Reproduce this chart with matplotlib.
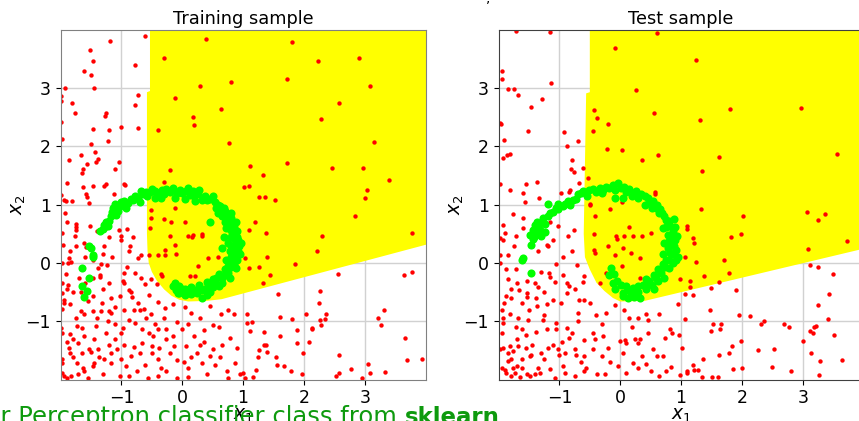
import numpy as np
import matplotlib.pyplot as plt

# ---- data ----
ticks = [-1, 0, 1, 2, 3]
titles = ["Training sample", "Test sample"]

# predicted "positive" region (yellow), polygon outline
train_region_x = [-0.53, -0.53, -0.58, -0.58, -0.57, -0.55, -0.50, -0.42, -0.30, -0.18, -0.05, 0.10, 0.40, 0.65, 4.1, 4.1]
train_region_y = [4.1, 2.95, 2.93, 0.50, 0.20, 0.00, -0.15, -0.30, -0.45, -0.56, -0.63, -0.66, -0.65, -0.62, 0.34, 4.1]
test_region_x = [-0.50, -0.50, -0.56, -0.60, -0.58, -0.50, -0.39, -0.26, -0.12, 0.00, 0.40, 4.1, 4.1]
test_region_y = [4.1, 2.93, 2.91, 0.50, 0.10, -0.11, -0.34, -0.48, -0.60, -0.66, -0.65, 0.27, 4.1]

train_red = [
    (-0.61, 3.89), (-1.19, 3.80), (-1.52, 3.65), (-1.47, 3.46), (-0.78, 3.39), (-1.62, 3.30), (-1.50, 3.22),
    (-1.45, 3.00), (-1.93, 3.00), (-1.99, 2.87), (-1.99, 2.78), (-0.72, 2.89), (-1.81, 2.75), (-0.78, 2.71),
    (-1.77, 2.57), (-1.25, 2.57), (-1.27, 2.53), (-1.99, 2.42), (-1.00, 2.34), (-1.46, 2.30), (-1.20, 2.29),
    (-0.72, 2.31), (-1.98, 2.13), (-1.22, 2.10), (-1.50, 2.04), (-1.43, 1.91), (-1.67, 1.85), (-1.86, 1.77),
    (-1.39, 1.79), (-1.41, 1.73), (-1.04, 1.73), (-1.57, 1.69), (-1.63, 1.61), (-1.65, 1.55), (-1.11, 1.61),
    (-1.89, 1.38), (-1.46, 1.32), (-1.26, 1.35), (-1.28, 1.32), (-0.96, 1.35), (-0.94, 1.33), (-1.63, 1.30),
    (-1.58, 1.18), (-1.57, 1.14), (-1.12, 1.18), (-1.99, 1.16), (-1.95, 1.08), (-1.91, 1.06), (-1.81, 1.06),
    (-1.54, 1.03),
    (0.39, 3.85), (-0.30, 3.52), (0.81, 3.11), (0.30, 3.03), (-0.12, 2.83), (0.63, 2.64), (0.18, 2.51),
    (0.19, 2.37), (-0.39, 2.28), (0.77, 2.05), (-0.20, 1.60), (-0.30, 1.39), (1.02, 1.30),
    (1.81, 3.79), (2.24, 3.47), (2.90, 3.51), (1.73, 3.15), (3.08, 3.04), (2.57, 2.74), (2.28, 2.47),
    (3.15, 2.08), (1.11, 1.66), (1.73, 1.72), (2.47, 1.63), (2.97, 1.63), (1.32, 1.51), (3.40, 1.42),
    (1.09, 1.32), (3.03, 1.26), (1.26, 1.14), (1.36, 1.14), (3.00, 1.12), (1.53, 1.08),
    (1.20, 0.70), (1.09, 0.56), (1.38, 0.52), (2.84, 0.80), (2.30, 0.47), (3.78, 0.52), (2.21, 0.21),
    (1.03, 0.09), (1.40, 0.11), (1.86, -0.01), (1.09, -0.09), (1.27, -0.06), (1.45, -0.20), (1.33, -0.34),
    (2.56, -0.18), (3.65, -0.20), (3.77, -0.16), (1.57, -0.53), (2.26, -0.48), (2.25, -0.68), (1.07, -0.88),
    (1.06, -1.03), (1.14, -1.01), (1.11, -1.16), (1.60, -0.92), (1.80, -0.96), (2.03, -0.87), (2.37, -0.87),
    (2.26, -0.97), (2.35, -0.96), (2.28, -1.07), (3.31, -0.81), (3.22, -0.95), (3.27, -1.07), (1.35, -1.18),
    (1.89, -1.15), (2.14, -1.12), (2.14, -1.14), (1.60, -1.26), (1.89, -1.37), (2.08, -1.36), (1.34, -1.40),
    (1.38, -1.41), (1.27, -1.49), (1.39, -1.52), (1.98, -1.54), (1.25, -1.62), (1.54, -1.61), (2.57, -1.57),
    (3.66, -1.28), (3.70, -1.66), (3.94, -1.65), (1.56, -1.75), (1.68, -1.77), (1.22, -1.84), (1.78, -1.85),
    (1.97, -1.90), (2.77, -1.81), (3.05, -1.73), (3.08, -1.89), (3.34, -1.87), (2.57, -1.89), (2.52, -1.93),
    (2.95, -1.98), (1.00, -1.89), (1.04, -1.97), (1.16, -1.96),
    (-1.92, 0.86), (-1.74, 0.67), (-1.74, 0.61), (-1.74, 0.57), (-1.52, 0.64), (-0.91, 0.59), (-1.04, 0.57),
    (-1.98, 0.52), (-1.77, 0.46), (-1.96, 0.31), (-1.75, 0.30), (-1.61, 0.34), (-1.59, 0.27), (-1.29, 0.30),
    (-1.31, 0.16), (-1.00, 0.46), (-1.00, 0.39), (-0.81, 0.44), (-0.86, 0.29), (-0.88, 0.21), (-0.68, 0.13),
    (-0.73, 0.09), (-1.97, 0.00), (-1.88, 0.00), (-1.83, 0.01), (-1.86, 0.09), (-1.46, 0.05), (-1.34, -0.01),
    (-1.39, -0.09), (-1.23, -0.03), (-0.90, -0.07), (-0.95, -0.17), (-0.78, -0.17), (-0.68, -0.26),
    (-1.91, -0.19), (-1.97, -0.35), (-1.87, -0.37), (-1.35, -0.20), (-1.35, -0.24), (-1.46, -0.26),
    (-0.97, -0.31), (-0.95, -0.34), (-0.62, -0.36), (-0.52, -0.27), (-0.42, -0.36), (-1.98, -0.51),
    (-1.94, -0.63), (-1.80, -0.50), (-1.66, -0.50), (-1.31, -0.44), (-1.47, -0.57), (-1.32, -0.68),
    (-1.17, -0.60), (-1.03, -0.57), (-0.88, -0.46), (-0.85, -0.50), (-0.83, -0.58), (-0.72, -0.68),
    (-0.63, -0.79), (-0.69, -0.81), (-0.51, -0.87), (-0.40, -0.67), (-0.28, -0.77), (-0.15, -0.71),
    (0.04, -0.75), (0.15, -0.85), (0.46, -0.73), (0.63, -0.87), (0.75, -0.81), (0.85, -0.88), (-1.84, -0.71),
    (-1.94, -0.68), (-1.97, -0.79), (-1.66, -0.83), (-1.61, -0.87), (-1.47, -0.83), (-1.33, -0.83),
    (-1.21, -0.83), (-1.17, -0.85), (-0.96, -0.81),
    (-1.99, -1.11), (-1.97, -1.20), (-1.84, -1.21), (-1.73, -1.08), (-1.65, -1.11), (-1.42, -1.08),
    (-1.22, -1.00), (-1.11, -1.05), (-0.98, -1.11), (-0.88, -0.98), (-0.78, -1.03), (-0.66, -1.13),
    (-0.48, -1.25), (-0.40, -1.14), (-0.26, -1.13), (-0.08, -1.01), (-0.01, -1.14), (0.10, -1.05),
    (0.35, -1.15), (0.50, -1.07), (0.79, -1.28),
    (-1.86, -1.45), (-1.72, -1.37), (-1.53, -1.48), (-1.50, -1.53), (-1.39, -1.48), (-1.17, -1.54),
    (-1.07, -1.48), (-0.79, -1.44), (-0.66, -1.37), (-0.49, -1.42), (-0.38, -1.45), (-0.26, -1.31),
    (-0.13, -1.42), (0.07, -1.42), (0.36, -1.36), (0.51, -1.48), (0.62, -1.62),
    (-1.98, -1.65), (-1.97, -1.71), (-1.80, -1.61), (-1.73, -1.71), (-1.63, -1.80), (-1.61, -1.85),
    (-1.47, -1.77), (-1.36, -1.62), (-1.28, -1.65), (-1.17, -1.71), (-1.01, -1.65), (-0.92, -1.77),
    (-0.62, -1.75), (-0.40, -1.65), (-0.26, -1.85), (-0.09, -1.66), (0.03, -1.70), (0.15, -1.61),
    (0.33, -1.71), (0.54, -1.75), (0.73, -1.85), (0.87, -1.71),
    (-1.97, -1.88), (-1.94, -1.94), (-1.90, -1.97), (-1.83, -1.93), (-1.72, -1.91), (-1.55, -1.98),
    (-1.03, -1.94), (-0.87, -1.94), (-0.56, -1.97), (-0.40, -1.94), (-0.09, -1.98), (0.76, -1.97), (0.95, -1.91),
    (-1.62, -1.25), (-1.45, -1.30), (-1.25, -1.20), (-1.10, -1.30), (-0.95, -1.40), (-0.70, -1.55),
    (-0.55, -1.20), (-0.20, -1.55), (0.20, -1.25), (0.40, -1.90), (-1.80, -1.30), (-1.30, -1.90),
    (-0.75, -1.85), (-1.55, -0.65), (-1.10, -0.75), (-0.60, -0.95), (-0.30, -0.95), (0.25, -1.55),
    (-1.70, -0.25), (-1.20, 0.45), (-1.40, 0.55), (-1.90, 0.70),
    (-1.85, -1.55), (-1.65, -1.55), (-1.45, -1.72), (-1.20, -1.40), (-1.00, -1.20), (-0.85, -1.60),
    (-0.50, -1.55), (-0.35, -1.80), (0.10, -1.80), (0.30, -1.40), (0.45, -1.60), (0.65, -1.40),
    (-1.75, -0.95), (-1.40, -0.95), (-0.80, -0.80), (-0.45, -1.05), (0.30, -0.95), (-1.90, -0.45),
    (-1.60, -0.35), (-1.20, -0.35), (-1.60, 0.10), (-1.15, 0.10), (-0.55, -0.55), (-1.85, 0.20),
    (-1.25, 0.60), (-1.90, -1.35), (-0.15, -1.25), (0.60, -1.10), (0.90, -1.45), (0.10, -1.95),
    (-0.52, 0.91), (-0.51, 0.77), (-0.30, 0.75), (-0.18, 0.71), (-0.12, 0.95), (0.04, 0.70), (-0.53, 0.60),
    (-0.20, 0.46), (0.09, 0.46), (0.18, 0.48), (0.16, 0.44), (0.32, 0.50), (0.33, 0.46), (-0.12, 0.31),
    (-0.55, 0.14), (-0.40, 0.13), (-0.29, 0.23), (-0.28, 0.14), (-0.11, 0.16), (0.43, 0.09), (0.26, -0.05),
    (0.12, -0.23), (0.21, -0.23), (-0.35, -0.19), (-0.34, -0.23), (0.59, 0.11),
]

train_green = [
    (-1.31, 0.58), (-1.22, 0.63), (-1.25, 0.71), (-1.17, 0.80), (-1.09, 0.83), (-1.14, 0.94), (-1.03, 0.97),
    (-0.98, 1.00), (-0.89, 1.03), (-1.11, 1.02), (-0.95, 1.07), (-0.81, 1.08), (-0.72, 1.12),
    (-1.53, 0.30), (-1.50, 0.26), (-1.46, 0.11), (-1.47, 0.14), (-1.64, -0.09), (-1.54, -0.25),
    (-1.65, -0.39), (-1.57, -0.48), (-1.61, -0.58),
    (-0.67, 1.24), (-0.65, 1.18), (-0.53, 1.21), (-0.45, 1.23), (-0.34, 1.25), (-0.26, 1.27), (-0.15, 1.28),
    (-0.04, 1.26), (0.07, 1.24), (0.18, 1.23), (0.26, 1.18), (0.37, 1.15), (0.46, 1.10), (0.54, 1.04),
    (-0.45, 1.12), (-0.12, 1.12), (0.04, 1.10), (0.21, 1.07), (-0.58, 1.15), (-0.30, 1.18), (0.12, 1.17),
    (0.32, 1.08),
    (0.46, 0.70), (0.59, 0.86), (0.65, 0.80), (0.79, 0.68), (0.82, 0.51), (0.87, 0.40), (0.93, 0.29),
    (0.87, 0.11), (0.81, -0.06), (0.76, -0.17), (0.65, -0.26), (0.54, -0.34), (0.43, -0.40), (0.32, -0.46),
    (0.21, -0.47), (0.10, -0.47), (-0.01, -0.44), (-0.11, -0.47), (-0.12, -0.34), (-0.07, -0.51),
    (0.32, -0.60), (0.15, -0.54), (0.70, 0.90), (0.75, 0.75), (0.72, 0.60), (0.90, 0.55), (0.95, 0.15),
    (0.92, 0.40), (0.75, 0.35), (0.78, 0.20), (0.72, 0.05), (0.85, -0.02), (0.70, -0.10), (0.60, -0.18),
    (0.50, -0.28), (0.40, -0.32), (0.28, -0.38), (0.60, -0.40), (0.45, -0.50), (0.05, -0.55), (-0.05, -0.40),
    (0.62, 0.98), (0.55, 0.95), (0.80, 0.85), (0.68, 0.45), (0.88, 0.70), (0.84, 0.25), (0.66, 0.25),
    (-0.60, 1.22), (-0.50, 1.27), (-0.40, 1.20), (-0.20, 1.22), (-0.08, 1.20), (0.10, 1.28), (0.28, 1.25),
    (0.40, 1.08), (0.50, 1.15), (0.58, 1.00), (0.62, 0.90), (0.68, 0.95), (0.74, 0.82), (0.80, 0.78),
    (0.70, 0.70), (0.78, 0.58), (0.85, 0.62), (0.86, 0.50), (0.80, 0.45), (0.90, 0.45), (0.96, 0.35),
    (0.88, 0.30), (0.80, 0.30), (0.92, 0.20), (0.86, 0.18), (0.80, 0.10), (0.90, 0.05), (0.78, 0.00),
    (0.88, -0.08), (0.75, -0.05), (0.78, -0.25), (0.70, -0.20), (0.65, -0.35), (0.55, -0.25), (0.48, -0.38),
    (0.38, -0.45), (0.25, -0.52), (0.15, -0.42), (0.05, -0.45), (-0.05, -0.52), (-0.15, -0.40), (0.40, -0.55),
    (0.50, -0.42), (-1.20, 0.72), (-1.28, 0.65), (-1.15, 0.88), (-1.05, 0.90), (-0.92, 0.95), (-0.85, 1.10),
    (-0.78, 1.15), (-0.70, 1.05), (-1.35, 0.55), (-1.00, 1.05), (0.00, 1.20), (0.20, 1.15), (-0.35, 1.12),
]

test_red = [
    (-1.71, 3.98), (-1.16, 3.97), (0.61, 3.95), (-0.08, 3.69), (-1.95, 3.30), (-1.94, 3.15), (-1.14, 3.09),
    (-1.84, 2.99), (-1.75, 2.99), (-1.68, 2.88), (-1.29, 2.82), (-1.46, 2.68), (0.26, 2.97), (-0.43, 2.63),
    (-0.38, 2.49), (-0.20, 2.39), (0.55, 2.57), (-1.97, 2.41), (-1.96, 2.38), (-1.52, 2.26), (-1.91, 2.11),
    (-0.93, 2.24), (-0.69, 2.10), (-0.44, 2.27), (-0.87, 2.00), (-1.93, 1.80), (-1.86, 1.86), (-1.81, 1.87),
    (-0.21, 1.95), (0.03, 1.94), (0.62, 1.86), (0.35, 1.77), (-0.80, 1.77), (-0.81, 1.61), (-0.76, 1.56),
    (-0.61, 1.63), (-1.97, 1.35), (-1.55, 1.35), (-1.36, 1.39), (-0.67, 1.38), (-0.53, 1.45), (-1.82, 1.25),
    (-1.60, 1.20), (-0.98, 1.20), (-0.84, 1.22), (-0.82, 1.26), (-1.33, 1.11), (-1.56, 1.05), (-0.50, 1.01),
    (0.57, 1.22), (0.57, 1.18), (0.03, 1.04),
    (1.24, 3.48), (1.81, 2.65), (2.97, 2.66), (1.31, 2.46), (1.63, 1.82), (3.56, 1.87), (1.34, 1.57),
    (1.32, 0.92), (2.02, 0.80), (3.07, 0.88), (3.36, 0.84), (3.25, 0.74), (1.10, 0.63), (1.09, 0.59),
    (1.19, 0.43), (1.21, 0.34), (1.82, 0.44), (1.99, 0.50), (3.08, 0.24), (3.73, 0.37), (1.07, 0.11),
    (1.25, 0.02), (1.70, 0.05), (1.79, -0.17), (0.99, -0.28), (1.14, -0.30), (1.15, -0.41), (1.37, -0.23),
    (1.62, -0.32), (1.49, -0.43), (1.90, -0.47), (1.07, -0.54), (1.19, -0.55), (3.12, -0.03), (3.25, -0.07),
    (3.50, -0.19), (3.43, -0.53), (3.25, -0.72), (3.41, -0.96), (1.48, -0.80), (1.95, -0.89), (2.13, -0.91),
    (1.06, -0.96), (1.53, -1.04), (1.66, -1.04), (1.50, -1.16), (1.64, -1.14), (2.37, -0.99), (2.32, -1.05),
    (2.69, -1.05), (2.77, -1.10), (3.18, -1.09), (3.22, -1.08), (3.12, -1.16), (3.17, -1.20), (3.52, -1.24),
    (0.96, -1.23), (1.99, -1.34), (3.00, -1.34), (1.02, -1.46), (1.84, -1.43), (1.79, -1.54), (1.63, -1.58),
    (2.27, -1.50), (2.52, -1.48), (3.14, -1.54), (1.36, -1.65), (3.28, -1.68), (3.64, -1.66), (1.20, -1.75),
    (1.09, -1.86), (1.10, -1.88), (1.21, -1.84), (1.28, -1.84), (0.99, -1.92), (1.34, -1.95), (1.51, -1.95),
    (1.60, -1.95), (1.85, -1.82), (2.01, -1.80), (2.50, -1.78), (2.80, -1.86), (3.27, -1.92),
    (-1.77, 0.84), (-1.60, 0.77), (-1.92, 0.66), (-1.97, 0.43), (-1.93, 0.40), (-1.89, 0.51), (-1.71, 0.46),
    (-1.98, 0.14), (-1.84, 0.13), (-1.16, 0.70), (-1.02, 0.63), (-0.76, 0.57), (-0.86, 0.46), (-1.21, 0.31),
    (-1.19, 0.29), (-1.35, 0.20), (-0.94, 0.11), (-0.71, -0.03), (-1.05, -0.02), (-1.97, 0.00), (-1.87, -0.10),
    (-1.71, -0.10), (-1.17, -0.17), (-1.16, -0.24), (-0.94, -0.20), (-0.59, -0.22), (-0.62, -0.32),
    (-1.85, -0.28), (-1.69, -0.34), (-1.53, -0.30), (-1.40, -0.34), (-1.35, -0.42), (-1.08, -0.32),
    (-0.87, -0.34), (-0.85, -0.40), (-1.67, -0.46), (-1.54, -0.51), (-1.87, -0.57), (-1.79, -0.60),
    (-1.95, -0.80), (-1.91, -0.68), (-1.62, -0.68), (-1.54, -0.58), (-1.38, -0.60), (-1.37, -0.74),
    (-1.20, -0.71), (-1.10, -0.63), (-0.97, -0.68), (-0.87, -0.51), (-0.67, -0.63), (-0.59, -0.64),
    (-0.50, -0.68), (-0.23, -0.85), (-0.08, -0.72), (0.07, -0.81), (0.29, -0.94), (0.43, -0.88),
    (0.45, -0.97), (0.64, -0.88), (0.81, -1.14), (0.85, -1.20), (-1.92, -1.03), (-1.93, -0.94),
    (-1.81, -0.88), (-1.68, -0.94), (-1.71, -1.09), (-1.62, -1.13), (-1.51, -0.97), (-1.55, -1.23),
    (-1.38, -1.19), (-1.27, -0.98), (-1.21, -1.13), (-1.05, -1.03), (-1.05, -1.14), (-0.87, -1.11),
    (-0.84, -1.28), (-0.80, -1.20), (-0.59, -1.32), (-0.45, -1.20), (-0.41, -1.31), (-0.28, -1.25),
    (-0.01, -1.34), (0.08, -1.32), (0.10, -1.37), (0.25, -1.31), (0.29, -1.37), (0.32, -1.31),
    (0.45, -1.20), (0.54, -1.48), (0.74, -1.28), (-1.97, -1.48), (-1.93, -1.45), (-1.81, -1.42),
    (-1.76, -1.51), (-1.68, -1.42), (-1.49, -1.60), (-1.46, -1.57), (-1.62, -1.65), (-1.84, -1.68),
    (-1.79, -1.65), (-1.19, -1.45), (-1.02, -1.48), (-1.00, -1.57), (-0.74, -1.48), (-0.73, -1.57),
    (-0.45, -1.48), (-0.16, -1.70), (-0.04, -1.77), (0.21, -1.71), (0.43, -1.74), (0.84, -1.79),
    (-1.94, -1.80), (-1.90, -1.84), (-1.87, -1.88), (-1.76, -1.80), (-1.69, -1.77), (-1.62, -1.80),
    (-1.73, -1.88), (-1.79, -1.94), (-1.54, -1.91), (-1.49, -1.94), (-1.35, -1.80), (-1.32, -1.88),
    (-1.16, -1.82), (-1.08, -1.97), (-0.94, -1.77), (-0.91, -1.88), (-0.75, -1.94), (-0.57, -1.80),
    (-0.39, -1.91), (0.09, -1.88), (0.64, -1.94), (0.76, -1.85),
    (-1.30, -1.55), (-0.60, -1.60), (-0.20, -1.45), (0.35, -1.60), (-0.25, -1.90), (0.50, -1.85),
    (-1.45, -1.40), (-0.95, -1.35), (-0.30, -1.05), (0.20, -1.10), (-1.25, -0.50), (-0.70, -0.85),
    (-1.85, -1.55), (-1.70, -1.30), (-1.55, -1.45), (-1.25, -1.65), (-1.10, -1.40), (-0.90, -1.55),
    (-0.65, -1.70), (-0.30, -1.60), (0.05, -1.55), (0.60, -1.60), (-1.80, -0.45), (-1.50, -0.80),
    (-1.25, -0.90), (-0.70, -1.00), (-0.40, -0.90), (0.15, -0.95), (-1.75, 0.30), (-1.60, 0.60),
    (-1.10, 0.40), (-0.80, 0.20), (-1.30, -0.15), (-0.75, -0.45), (-1.95, -1.20), (-1.40, -1.90),
    (-0.60, -1.85), (0.30, -1.80), (0.70, -1.60), (-1.65, -1.95), (0.95, -0.70),
    (-0.49, 1.00), (-0.16, 0.92), (-0.42, 0.80), (0.15, 0.61), (-0.07, 0.46), (-0.05, 0.41), (0.07, 0.46),
    (0.21, 0.46), (0.36, 0.46), (0.51, 0.52), (-0.43, 0.23), (-0.41, 0.17), (-0.20, 0.30), (-0.08, 0.14),
    (0.04, 0.26), (0.18, 0.17), (0.32, 0.09), (0.03, -0.05), (-0.24, -0.17), (-0.34, -0.34), (0.32, -0.26),
    (-0.43, 0.50),
]

test_green = [
    (-1.37, 0.71), (-1.40, 0.66), (-1.43, 0.57), (-1.32, 0.56), (-1.49, 0.48), (-1.44, 0.41), (-1.47, 0.31),
    (-1.30, 0.46), (-1.24, 0.54), (-1.23, 0.67), (-1.19, 0.80), (-1.10, 0.87), (-1.02, 0.92), (-0.94, 0.97),
    (-0.83, 1.00), (-1.60, 0.09), (-1.62, 0.05), (-1.46, -0.17), (-1.19, 1.02), (-1.02, 1.02), (-0.86, 1.07),
    (-0.69, 1.18), (-0.61, 1.24), (-0.45, 1.27), (-0.34, 1.28), (-0.23, 1.30), (-0.12, 1.33), (-0.04, 1.38),
    (0.07, 1.31), (0.15, 1.27), (0.26, 1.24), (0.34, 1.18), (0.45, 1.12), (0.54, 1.07), (-0.09, 1.12),
    (0.04, 1.12), (-0.55, 1.15), (-0.30, 1.20), (0.20, 1.15), (-0.72, 1.10), (0.10, 1.22),
    (0.40, 1.00), (0.53, 0.94), (0.64, 0.86), (0.75, 0.74), (0.81, 0.63), (0.84, 0.48), (0.84, 0.34),
    (0.81, 0.17), (0.76, 0.06), (0.73, -0.06), (0.67, -0.17), (0.59, -0.26), (0.48, -0.31), (0.37, -0.37),
    (0.29, -0.40), (0.21, -0.43), (0.13, -0.47), (0.02, -0.37), (0.04, -0.51), (0.04, -0.57), (0.32, -0.60),
    (0.18, -0.51), (-0.15, -0.09), (-0.18, -0.20), (-0.12, -0.34), (0.94, 0.46), (0.92, 0.23), (0.86, 0.00),
    (0.62, -0.11), (0.43, -0.28), (0.70, 0.60), (0.68, 0.85), (0.90, 0.62), (0.72, 0.35), (0.88, 0.75),
    (0.95, 0.10), (0.55, -0.45), (0.70, 0.15), (0.60, 1.00),
    (-0.65, 1.20), (-0.52, 1.25), (-0.40, 1.22), (-0.28, 1.25), (-0.18, 1.28), (-0.08, 1.25), (0.02, 1.28),
    (0.22, 1.20), (0.30, 1.12), (0.40, 1.15), (0.48, 1.05), (0.58, 0.95), (0.66, 0.92), (0.72, 0.80),
    (0.80, 0.72), (0.76, 0.62), (0.86, 0.55), (0.78, 0.48), (0.90, 0.40), (0.80, 0.38), (0.88, 0.30),
    (0.78, 0.25), (0.86, 0.15), (0.80, 0.05), (0.92, 0.05), (0.70, -0.02), (0.80, -0.08), (0.72, -0.25),
    (0.62, -0.30), (0.52, -0.38), (0.42, -0.45), (0.30, -0.50), (0.22, -0.58), (0.10, -0.40), (-0.05, -0.30),
    (-0.08, -0.45), (0.12, -0.60), (-1.35, 0.62), (-1.28, 0.70), (-1.38, 0.50), (-1.42, 0.45), (-1.15, 0.85),
    (-1.06, 0.95), (-0.90, 1.02), (-0.78, 1.08), (-1.27, 0.78), (-0.10, -0.18), (0.55, -0.20), (0.45, -0.35),
]

regions = [(train_region_x, train_region_y), (test_region_x, test_region_y)]
reds = [np.array(train_red), np.array(test_red)]
greens = [np.array(train_green), np.array(test_green)]

fig = plt.figure(figsize=(8.59, 4.21), dpi=100)
axes = [fig.add_axes([0.0705, 0.0983, 0.4249, 0.8309]),
        fig.add_axes([0.5804, 0.0983, 0.4249, 0.8309])]

for i, ax in enumerate(axes):
    ax.set_axisbelow(True)
    ax.grid(True, color='0.82', linewidth=1.0)
    rx, ry = regions[i]
    ax.fill(rx, ry, color='#ffff00', linewidth=0)
    ax.scatter(reds[i][:, 0], reds[i][:, 1], s=10, c='#ff0000', linewidths=0)
    ax.scatter(greens[i][:, 0], greens[i][:, 1], s=34, c='#00ff00', linewidths=0)
    ax.set_xlim(-2, 4)
    ax.set_ylim(-2, 4)
    ax.set_xticks(ticks)
    ax.set_yticks(ticks)
    ax.tick_params(labelsize=12.5)
    ax.set_title(titles[i], fontsize=12.8, pad=4)
    ax.set_xlabel('$x_1$', fontsize=13.5, labelpad=-1)
    ax.set_ylabel('$x_2$', fontsize=13.5, labelpad=-2)
    for sp in ax.spines.values():
        sp.set_color('0.5' if i == 0 else '0.25')

# slide text bleeding in around the figure
fig.text(397 / 859, -0.007, 'for Perceptron classifier class from', ha='right', va='baseline',
         fontsize=17.5, color='#0e9a0e')
fig.text(405 / 859, -0.007, 'sklearn', ha='left', va='baseline', fontsize=16.5,
         fontweight='bold', color='#0e9a0e')
fig.text(488 / 859, 1.005, ',', ha='center', va='center', fontsize=10, color='black')

fig.savefig('out.png', dpi=100)
